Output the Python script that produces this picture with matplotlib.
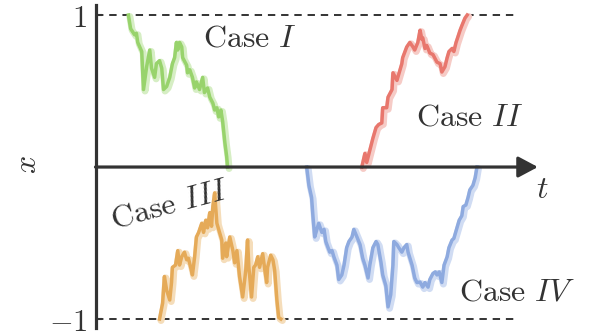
import matplotlib
matplotlib.use("Agg")
import matplotlib.pyplot as plt
import matplotlib.transforms as mtransforms

plt.rcParams['mathtext.fontset'] = 'cm'
plt.rcParams['font.family'] = 'DejaVu Serif'

# four sample paths, t in arbitrary units, x in [-1, 1]
t_green = [7.4, 7.9, 8.8, 9.2, 9.5, 10.4, 10.8, 11.5, 12.2, 12.6, 13.3, 13.7, 14.4, 14.9,
           15.3, 16.0, 16.7, 17.3, 17.8, 18.2, 18.5, 18.9, 19.4, 19.6, 20.5, 20.7, 21.2,
           21.8, 22.3, 22.7, 23.4, 24.1, 24.5, 25.2, 25.7, 26.4, 26.8, 27.3, 27.7, 28.2,
           28.6, 29.1, 29.5, 29.7]
x_green = [1.00, 0.91, 0.87, 0.88, 0.82, 0.76, 0.51, 0.66, 0.77, 0.65, 0.59, 0.68, 0.70, 0.65,
           0.51, 0.53, 0.59, 0.68, 0.72, 0.82, 0.77, 0.82, 0.79, 0.72, 0.67, 0.62, 0.64,
           0.59, 0.52, 0.56, 0.51, 0.59, 0.49, 0.52, 0.46, 0.42, 0.375, 0.39, 0.33, 0.375,
           0.30, 0.16, 0.07, 0.0]

t_red = [59.9, 60.6, 61.0, 61.7, 62.4, 63.1, 63.7, 64.4, 64.6, 65.5, 65.8, 66.7, 66.9, 67.8,
         68.2, 68.9, 69.1, 70.0, 70.7, 71.4, 71.8, 72.5, 73.0, 73.4, 73.6, 74.1, 74.5, 75.2,
         75.9, 76.8, 77.5, 77.9, 78.6, 79.1, 79.5, 80.2, 80.6, 81.1, 81.5, 82.0, 82.4, 83.1,
         83.6]
x_red = [0.0, 0.09, 0.03, 0.11, 0.19, 0.26, 0.28, 0.29, 0.39, 0.39, 0.46, 0.51, 0.62, 0.57,
         0.61, 0.68, 0.72, 0.79, 0.82, 0.79, 0.77, 0.82, 0.90, 0.84, 0.85, 0.78, 0.80, 0.75,
         0.74, 0.69, 0.68, 0.625, 0.66, 0.72, 0.76, 0.78, 0.76, 0.82, 0.855, 0.90, 0.93, 0.98,
         1.00]

t_orange = [14.4, 15.1, 15.5, 16.0, 16.7, 17.1, 17.3, 18.0, 18.5, 18.9, 19.4, 20.0, 20.5,
            20.9, 21.4, 21.8, 22.3, 22.7, 23.2, 23.9, 24.3, 24.8, 25.2, 25.7, 26.1, 26.4,
            26.8, 27.3, 27.7, 28.4, 28.6, 29.3, 29.5, 30.2, 30.9, 31.3, 31.8, 32.4, 33.1,
            33.8, 34.2, 34.5, 35.1, 35.6, 36.0, 36.5, 36.9, 37.6, 38.1, 38.5, 38.7, 39.4,
            39.9, 40.3, 40.8, 41.2, 41.7]
x_orange = [-1.00, -0.895, -0.72, -0.81, -0.875, -0.76, -0.66, -0.645, -0.55, -0.645, -0.59,
            -0.56, -0.61, -0.60, -0.66, -0.71, -0.59, -0.46, -0.43, -0.37, -0.43, -0.35,
            -0.40, -0.30, -0.39, -0.26, -0.17, -0.37, -0.41, -0.48, -0.60, -0.50, -0.59,
            -0.46, -0.55, -0.63, -0.55, -0.72, -0.855, -0.68, -0.48, -0.66, -0.855, -0.66,
            -0.645, -0.59, -0.66, -0.57, -0.68, -0.76, -0.66, -0.58, -0.61, -0.68, -0.875,
            -0.99, -1.00]

t_blue = [47.5, 48.0, 48.6, 48.9, 49.3, 49.8, 50.2, 50.9, 51.4, 51.8, 52.3, 52.7, 53.2, 53.6,
          54.3, 54.7, 55.4, 55.9, 56.5, 57.0, 57.7, 58.1, 58.8, 59.5, 60.1, 60.6, 61.3, 61.7,
          62.4, 63.1, 63.5, 64.2, 64.6, 65.3, 65.8, 66.4, 66.9, 67.1, 67.8, 68.2, 68.9, 69.4,
          70.0, 70.3, 71.2, 71.8, 72.3, 73.0, 73.6, 74.1, 74.8, 75.2, 75.9, 76.4, 76.8, 77.3,
          77.9, 78.4, 79.1, 79.5, 80.2, 80.6, 81.3, 81.8, 82.4, 82.7, 83.3, 83.8, 84.2, 84.9,
          85.4, 85.8]
x_blue = [0.0, -0.12, -0.20, -0.32, -0.46, -0.41, -0.37, -0.43, -0.41, -0.49, -0.53, -0.56,
          -0.55, -0.59, -0.645, -0.74, -0.71, -0.645, -0.53, -0.49, -0.46, -0.41, -0.46, -0.51,
          -0.60, -0.645, -0.73, -0.645, -0.53, -0.49, -0.51, -0.625, -0.71, -0.78, -0.92, -0.84,
          -0.645, -0.49, -0.51, -0.53, -0.56, -0.53, -0.51, -0.56, -0.645, -0.73, -0.76, -0.757,
          -0.79, -0.76, -0.79, -0.74, -0.70, -0.69, -0.71, -0.69, -0.76, -0.645, -0.59, -0.53,
          -0.48, -0.47, -0.40, -0.35, -0.32, -0.26, -0.25, -0.20, -0.15, -0.12, -0.07, 0.0]

paths = [
    (t_green, x_green, '#98d36c', '#d6eec4'),
    (t_red, x_red, '#e8776d', '#f6cbc6'),
    (t_orange, x_orange, '#e5aa58', '#f5ddba'),
    (t_blue, x_blue, '#8eaadf', '#d0dcf3'),
]

fig = plt.figure(figsize=(5.9, 3.33), dpi=100)
ax = fig.add_axes([95.5 / 590, 5 / 333, 449.5 / 590, 323 / 333])
ax.set_xlim(0, 101.1)
ax.set_ylim(-1.059, 1.066)

shadow = mtransforms.offset_copy(ax.transData, fig=fig, x=1.5, y=-1.5, units='dots')
for t, x, c, cs in paths:
    ax.plot(t, x, color=cs, lw=5, transform=shadow, solid_capstyle='round', zorder=2)
    ax.plot(t, x, color=c, lw=2.5, solid_joinstyle='round', zorder=3)

dark = '#333333'
ax.hlines([1, -1], 0, 95, colors=dark, linestyles=(0, (3.8, 3)), lw=1.4, zorder=1)

# axes
for s in ['top', 'right', 'bottom']:
    ax.spines[s].set_visible(False)
ax.spines['left'].set_linewidth(2.3)
ax.spines['left'].set_color(dark)
ax.annotate('', xy=(99.5, 0), xytext=(0, 0),
            arrowprops=dict(arrowstyle='-|>,head_length=0.6,head_width=0.32', lw=2.3,
                            color=dark, shrinkA=0, shrinkB=0, mutation_scale=20), zorder=4)

ax.set_xticks([])
ax.set_yticks([-1, 1])
ax.set_yticklabels([r'$-1$', r'$1$'], fontsize=22, color='#333333')
for lab in ax.get_yticklabels():
    lab.set_verticalalignment('center_baseline')
ax.tick_params(axis='y', direction='in', length=4, width=1.5, color=dark, pad=6)

fs = 23
tc = '#333333'
ax.text(34.7, 0.85, r'$\mathrm{Case}\ I$', fontsize=fs, color=tc, ha='center', va='center')
ax.text(84.2, 0.33, r'$\mathrm{Case}\ II$', fontsize=fs, color=tc, ha='center', va='center')
ax.text(16.6, -0.245, r'$\mathrm{Case}\ III$', fontsize=fs, color=tc, ha='center', va='center',
        rotation=15)
ax.text(94.7, -0.82, r'$\mathrm{Case}\ IV$', fontsize=fs, color=tc, ha='center', va='center')

fig.text(27 / 590, 1 - 165 / 333, r'$x$', fontsize=fs, color=tc, ha='center', va='center',
         rotation=90)
ax.text(100.5, -0.15, r'$t$', fontsize=fs, color=tc, ha='center', va='center')

fig.savefig('out.png', dpi=100)
